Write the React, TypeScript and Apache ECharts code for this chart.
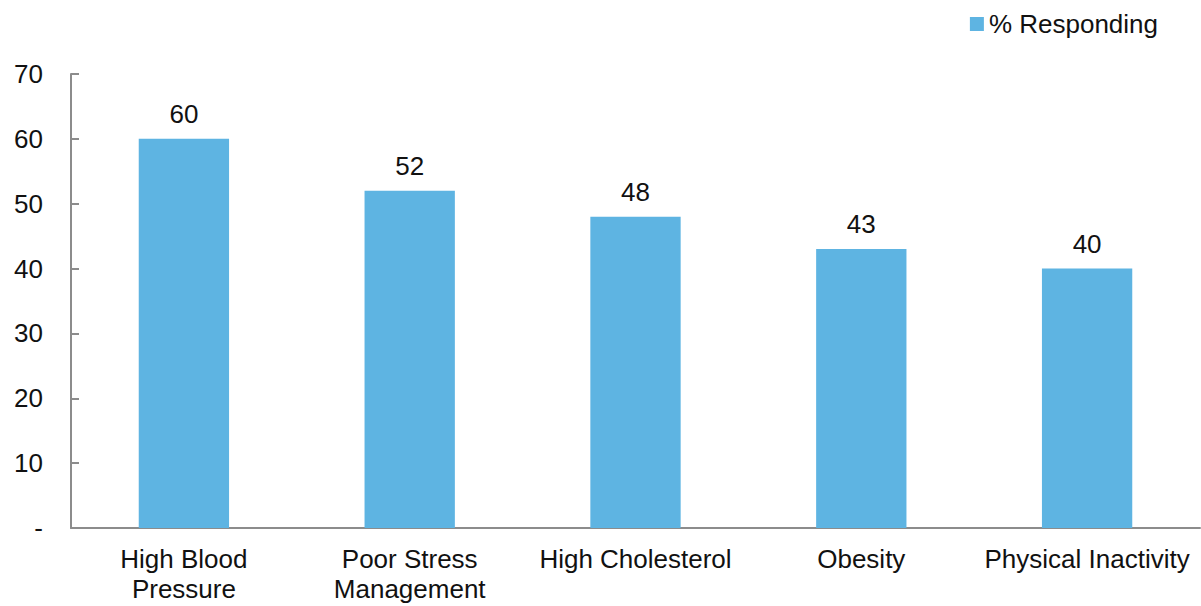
import React, { useEffect, useRef } from "react";
import * as echarts from "echarts";

// Health risk factors and share of respondents naming each
const categories = [
  "High Blood\nPressure",
  "Poor Stress\nManagement",
  "High Cholesterol",
  "Obesity",
  "Physical Inactivity",
];
const responding = [60, 52, 48, 43, 40];
const seriesName = "% Responding";

const yMin = 0;
const yMax = 70;
const yStep = 10;

const FONT = "'Liberation Sans', Arial, sans-serif";
const AXIS_GRAY = "#8c8c8c";
const BAR_BLUE = "#5EB4E2";
const FS = 26;

export default function App() {
  const ref = useRef<HTMLDivElement>(null);

  useEffect(() => {
    if (!ref.current) return;
    const chart = echarts.init(ref.current, undefined, { renderer: "svg" });
    chart.setOption({
      animation: false,
      textStyle: { fontFamily: FONT },
      legend: {
        data: [seriesName],
        right: 38,
        top: 6,
        itemWidth: 14,
        itemHeight: 14,
        itemGap: 6,
        icon: "rect",
        textStyle: { fontSize: FS, color: "#111", fontFamily: FONT },
      },
      grid: { left: 71, right: 1, top: 74, bottom: 78 },
      xAxis: {
        type: "category",
        data: categories,
        axisLine: { lineStyle: { color: AXIS_GRAY, width: 2 } },
        axisTick: { inside: true, length: 8, lineStyle: { color: AXIS_GRAY, width: 1 } },
        axisLabel: {
          interval: 0,
          hideOverlap: false,
          fontSize: FS,
          color: "#111",
          lineHeight: 30,
          margin: 16,
          fontFamily: FONT,
        },
      },
      yAxis: {
        type: "value",
        min: yMin,
        max: yMax,
        interval: yStep,
        splitLine: { show: false },
        axisLine: { show: true, lineStyle: { color: AXIS_GRAY, width: 2 } },
        axisTick: { show: true, inside: true, length: 8, lineStyle: { color: AXIS_GRAY, width: 2 } },
        axisLabel: {
          fontSize: FS,
          color: "#111",
          margin: 28,
          fontFamily: FONT,
          formatter: (v: number) => (v === 0 ? "-" : String(v)),
        },
      },
      series: [
        {
          name: seriesName,
          type: "bar",
          data: responding,
          barWidth: "40%",
          itemStyle: { color: BAR_BLUE },
          label: {
            show: true,
            position: "top",
            distance: 12,
            fontSize: FS,
            color: "#111",
            fontFamily: FONT,
          },
        },
      ],
    });
    return () => chart.dispose();
  }, []);

  return (
    <div
      ref={ref}
      style={{ width: 1201, height: 606, position: "absolute", left: 0, top: 0 }}
    />
  );
}
